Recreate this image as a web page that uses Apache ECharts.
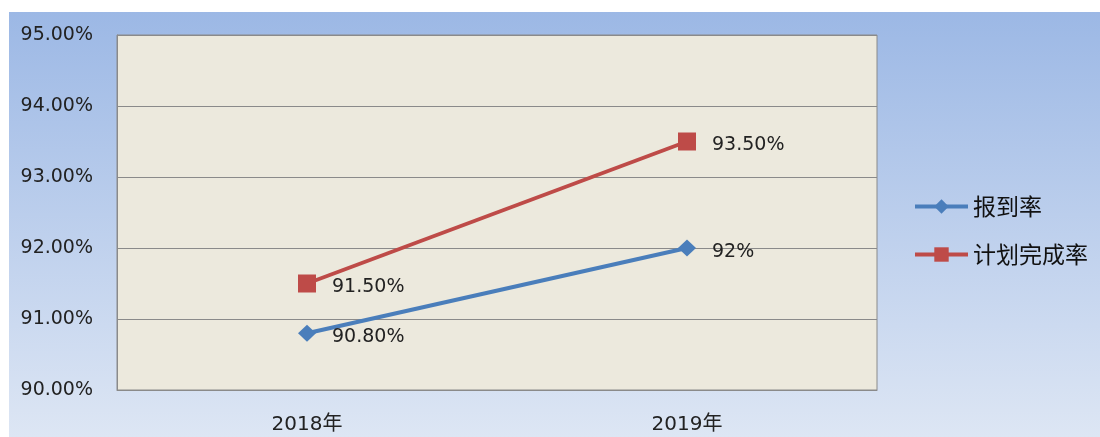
<!DOCTYPE html>
<html>
<head>
<meta charset="utf-8">
<script src="https://cdn.jsdelivr.net/npm/echarts@6/dist/echarts.min.js"></script>
<style>
  html, body { margin: 0; padding: 0; background: #fff; }
  #chart { width: 1100px; height: 437px; }
</style>
</head>
<body>
<div id="chart"></div>
<script>
const years = ['2018年', '2019年']
const arrivalRate = [90.8, 92]
const arrivalLabels = ['90.80%', '92%']
const planRate = [91.5, 93.5]
const planLabels = ['91.50%', '93.50%']

const font = '"DejaVu Sans", "Noto Sans CJK SC", sans-serif'
const chart = echarts.init(document.getElementById('chart'))

chart.setOption({
  backgroundColor: '#fff',
  animation: false,
  graphic: [{
    type: 'rect',
    shape: { x: 9, y: 12, width: 1091, height: 425 },
    style: {
      fill: new echarts.graphic.LinearGradient(0, 0, 0, 1, [
        { offset: 0, color: '#9cb8e5' },
        { offset: 1, color: '#dde6f4' },
      ]),
    },
    z: -10,
  }],
  legend: {
    orient: 'vertical',
    left: 913,
    top: 195,
    padding: 0,
    itemWidth: 53,
    itemHeight: 18,
    itemGap: 25,
    lineStyle: { width: 4 },
    textStyle: { fontSize: 23, color: '#111', fontFamily: '"Noto Sans CJK SC", sans-serif' },
    data: ['报到率', '计划完成率'],
  },
  grid: {
    left: 117,
    top: 35,
    right: 223,
    bottom: 47,
    show: true,
    backgroundColor: '#ece9dd',
    borderColor: '#8a8a8a',
    borderWidth: 1,
  },
  xAxis: {
    type: 'category',
    data: years,
    boundaryGap: true,
    axisLine: { lineStyle: { color: '#8a8a8a' } },
    axisTick: { show: false },
    axisLabel: { fontSize: 20, color: '#222', fontFamily: font, margin: 25 },
  },
  yAxis: {
    type: 'value',
    min: 90,
    max: 95,
    interval: 1,
    axisLine: { show: true, lineStyle: { color: '#8a8a8a' } },
    axisTick: { show: false },
    splitLine: { lineStyle: { color: '#8a8a8a', width: 1 } },
    axisLabel: {
      fontSize: 19,
      color: '#222',
      fontFamily: font,
      margin: 24,
      formatter: v => v.toFixed(2) + '%',
    },
  },
  series: [
    {
      name: '报到率',
      type: 'line',
      data: arrivalRate,
      color: '#4a7ebb',
      symbol: 'diamond',
      symbolSize: [18, 17],
      lineStyle: { width: 4 },
      label: {
        show: true,
        position: 'right',
        distance: 16,
        offset: [0, 4],
        fontSize: 19,
        color: '#222',
        fontFamily: font,
        formatter: p => arrivalLabels[p.dataIndex],
      },
    },
    {
      name: '计划完成率',
      type: 'line',
      data: planRate,
      color: '#be4b48',
      symbol: 'rect',
      symbolSize: 18,
      lineStyle: { width: 4 },
      label: {
        show: true,
        position: 'right',
        distance: 16,
        offset: [0, 4],
        fontSize: 19,
        color: '#222',
        fontFamily: font,
        formatter: p => planLabels[p.dataIndex],
      },
    },
  ],
})
</script>
</body>
</html>
